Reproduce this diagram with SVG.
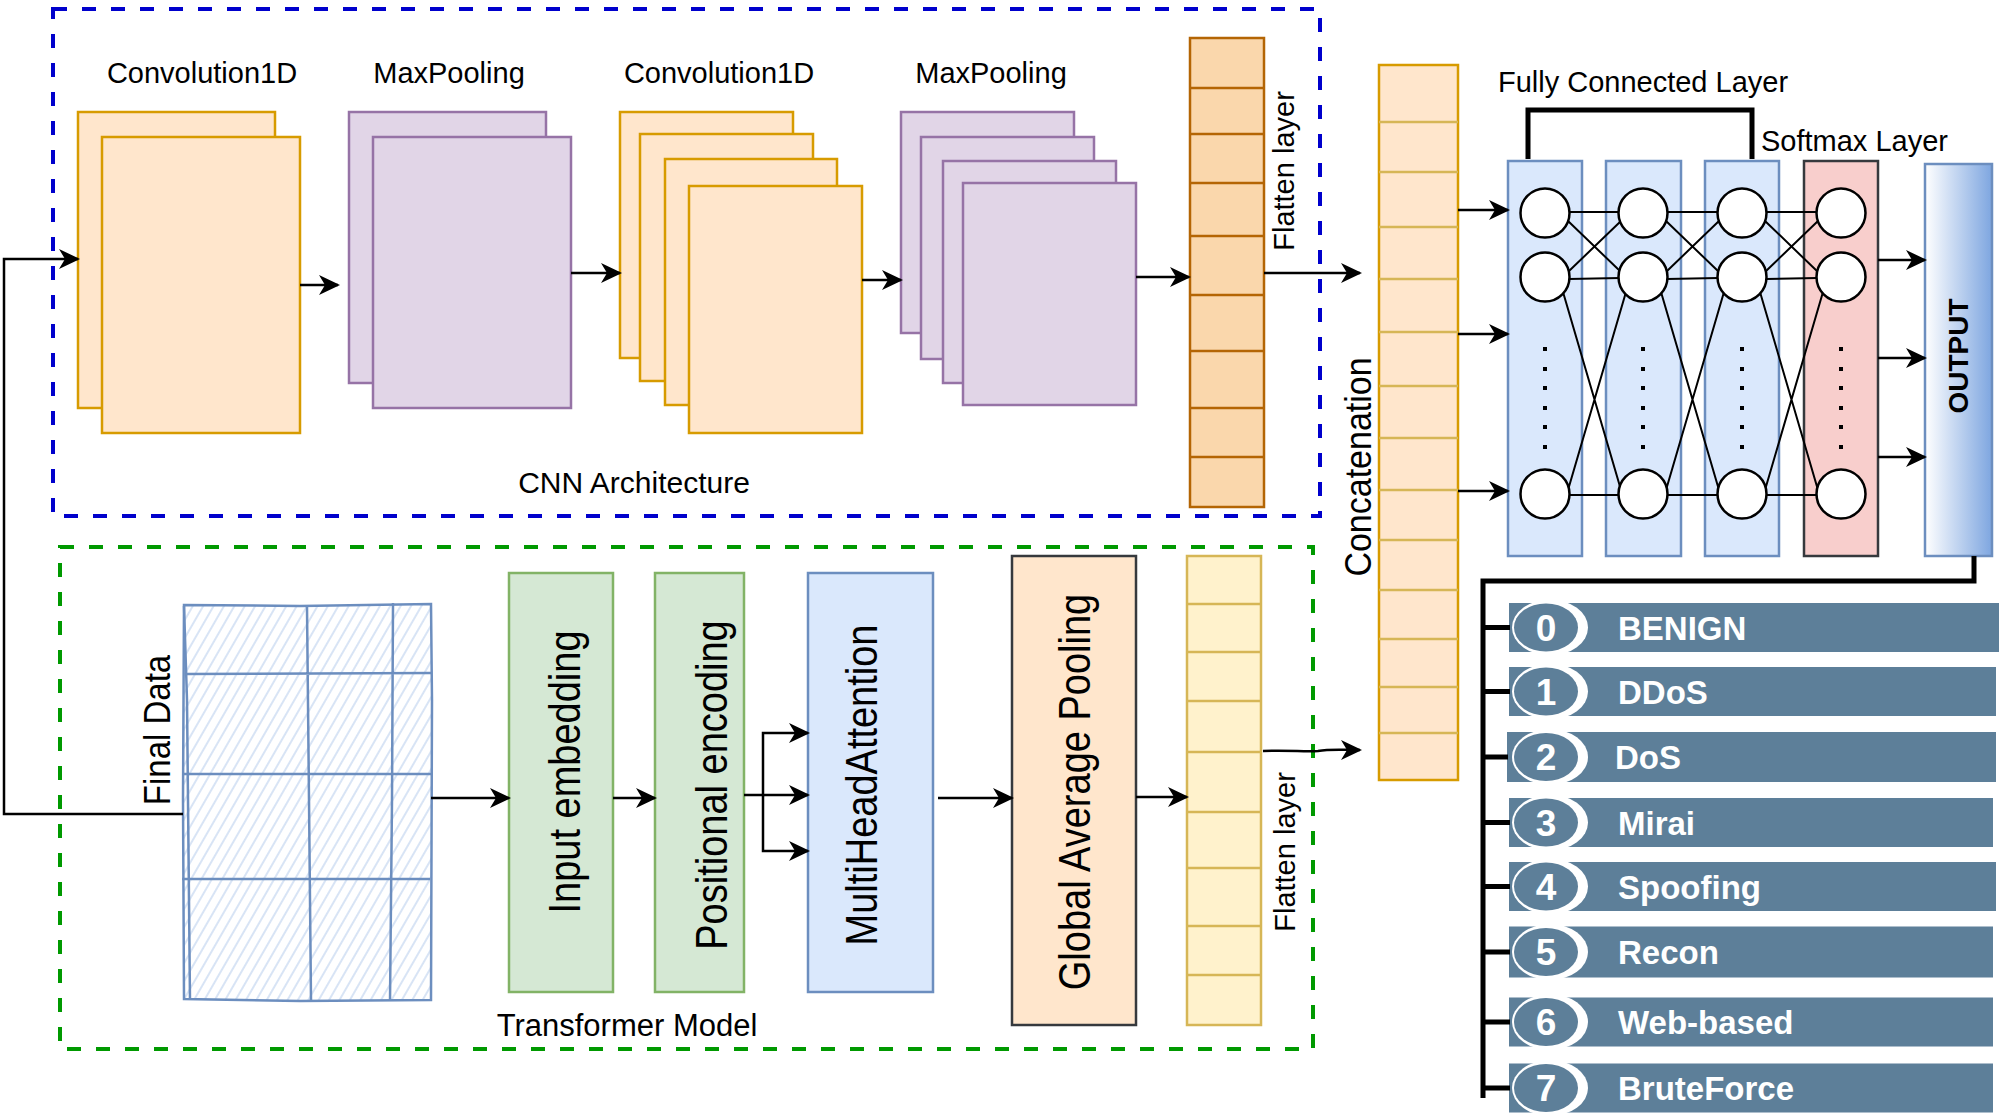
<svg xmlns="http://www.w3.org/2000/svg" xmlns:xlink="http://www.w3.org/1999/xlink" width="2000" height="1115" viewBox="0 0 2000 1115">
<style>
text{font-family:"Liberation Sans",Arial,Helvetica,sans-serif;fill:#000}
.t29{font-size:29px}
.t30{font-size:30px}
.big{font-size:38px}
.conv{fill:#FFE6CC;stroke:#D79B00;stroke-width:2.5}
.pool{fill:#E1D5E7;stroke:#9673A6;stroke-width:2.5}
.fc{fill:#DAE8FC;stroke:#6C8EBF;stroke-width:2.5}
.conn{fill:none;stroke:#000;stroke-width:2.5}
.mesh{fill:none;stroke:#000;stroke-width:2}
.node{fill:#fff;stroke:#000;stroke-width:2.5}
.bar{fill:#5D7F99}
.num{font-size:37px;font-weight:bold;fill:#fff;text-anchor:middle}
.lab{font-size:33px;font-weight:bold;fill:#fff}
.mid{text-anchor:middle}
</style>
<defs>
<marker id="ah" markerUnits="userSpaceOnUse" viewBox="0 0 21 20" markerWidth="21" markerHeight="20" refX="19" refY="10" orient="auto">
<path d="M0,0 L21,10 L0,20 L6,10 Z" fill="#000"/>
</marker>
<linearGradient id="outg" x1="0" y1="0" x2="1" y2="0">
<stop offset="0" stop-color="#FFFFFF"/>
<stop offset="1" stop-color="#7EA6E0"/>
</linearGradient>
<pattern id="hatch" patternUnits="userSpaceOnUse" width="9" height="12" patternTransform="rotate(30)">
<line x1="2" y1="0" x2="2" y2="12" stroke="#C3D6F0" stroke-width="1.3"/>
</pattern>
<g id="mesh">
<path class="mesh" d="M24,212 L75,212 M22,220 L76,272 M23,272 L77,220 M24,279 L75,278 M18,292 L76,490 M23,490 L81,292 M24,495 L75,495"/>
</g>
<g id="dots">
<rect x="-2" y="347" width="4" height="4"/><rect x="-2" y="367" width="4" height="4"/><rect x="-2" y="386" width="4" height="4"/><rect x="-2" y="406" width="4" height="4"/><rect x="-2" y="425" width="4" height="4"/><rect x="-2" y="445" width="4" height="4"/>
</g>
</defs>
<rect width="2000" height="1115" fill="#fff"/>

<!-- containers -->
<g id="cnn-box">
<rect x="53" y="9" width="1267" height="507" fill="none" stroke="#0000CC" stroke-width="4" stroke-dasharray="14 15"/>
<text class="t30 mid" x="634" y="493">CNN Architecture</text>
</g>
<g id="transformer-box">
<rect x="60" y="547" width="1253" height="502" fill="none" stroke="#009900" stroke-width="4" stroke-dasharray="14 15"/>
<text class="mid" style="font-size:31px" x="627" y="1036">Transformer Model</text>
</g>

<!-- CNN nodes -->
<g id="conv1">
<text class="t29 mid" x="202" y="83">Convolution1D</text>
<rect class="conv" x="78" y="112" width="197" height="296"/>
<rect class="conv" x="102" y="137" width="198" height="296"/>
</g>
<g id="pool1">
<text class="t29 mid" x="449" y="83">MaxPooling</text>
<rect class="pool" x="349" y="112" width="197" height="271"/>
<rect class="pool" x="373" y="137" width="198" height="271"/>
</g>
<g id="conv2">
<text class="t29 mid" x="719" y="83">Convolution1D</text>
<rect class="conv" x="620" y="112" width="173" height="246"/>
<rect class="conv" x="640" y="134" width="173" height="247"/>
<rect class="conv" x="665" y="159" width="172" height="246"/>
<rect class="conv" x="689" y="186" width="173" height="247"/>
</g>
<g id="pool2">
<text class="t29 mid" x="991" y="83">MaxPooling</text>
<rect class="pool" x="901" y="112" width="173" height="221"/>
<rect class="pool" x="921" y="137" width="173" height="222"/>
<rect class="pool" x="943" y="161" width="173" height="222"/>
<rect class="pool" x="963" y="183" width="173" height="222"/>
</g>
<g id="flatten-cnn">
<rect x="1190" y="38" width="74" height="469" fill="#FAD7AC" stroke="#B46504" stroke-width="2.5"/>
<path d="M1190,88H1264M1190,134H1264M1190,183H1264M1190,236H1264M1190,295H1264M1190,351H1264M1190,408H1264M1190,457H1264" stroke="#B46504" stroke-width="2.5"/>
<text class="t29 mid" transform="translate(1294,171) rotate(-90)">Flatten layer</text>
</g>

<!-- Transformer nodes -->
<g id="final-data">
<path d="M184,605 L300,606 L431,604 L432,700 L431,1000 L300,1001 L184,999 L183,800 Z" fill="url(#hatch)" stroke="#6C8EBF" stroke-width="2.5"/>
<path d="M184,606 L187,700 L190,1000 M307,607 L309,800 L311,1000 M393,603 L392,800 L390,1001 M187,674 L432,673 M183,774 L431,774 M182,879 L430,879" fill="none" stroke="#6C8EBF" stroke-width="2.5"/>
<text class="mid" style="font-size:33px" transform="translate(170,730) rotate(-90) scale(1,1.12)">Final Data</text>
</g>
<g id="input-embedding">
<rect x="509" y="573" width="104" height="419" fill="#D5E8D4" stroke="#82B366" stroke-width="2.5"/>
<text class="big mid" transform="translate(580,772) rotate(-90) scale(1,1.17)">Input embedding</text>
</g>
<g id="positional-encoding">
<rect x="655" y="573" width="89" height="419" fill="#D5E8D4" stroke="#82B366" stroke-width="2.5"/>
<text class="big mid" transform="translate(727,785) rotate(-90) scale(1,1.17)">Positional encoding</text>
</g>
<g id="multihead-attention">
<rect x="808" y="573" width="125" height="419" fill="#DAE8FC" stroke="#6C8EBF" stroke-width="2.5"/>
<text class="big mid" transform="translate(877,785) rotate(-90) scale(1,1.17)">MultiHeadAttention</text>
</g>
<g id="global-average-pooling">
<rect x="1012" y="556" width="124" height="469" fill="#FFE6CC" stroke="#36393D" stroke-width="2.5"/>
<text class="big mid" transform="translate(1090,792) rotate(-90) scale(1,1.17)">Global Average Pooling</text>
</g>
<g id="flatten-transformer">
<rect x="1187" y="556" width="74" height="469" fill="#FFF2CC" stroke="#D6B656" stroke-width="2.5"/>
<path d="M1187,604H1261M1187,652H1261M1187,701H1261M1187,752H1261M1187,812H1261M1187,868H1261M1187,926H1261M1187,975H1261" stroke="#D6B656" stroke-width="2.5"/>
<text class="t29 mid" transform="translate(1295,852) rotate(-90)">Flatten layer</text>
</g>

<!-- Concatenation -->
<g id="concatenation">
<rect x="1379" y="65" width="79" height="715" fill="#FFE6CC" stroke="#D79B00" stroke-width="2.5"/>
<path d="M1379,122H1458M1379,172H1458M1379,227H1458M1379,279H1458M1379,332H1458M1379,386H1458M1379,438H1458M1379,490H1458M1379,540H1458M1379,590H1458M1379,639H1458M1379,687H1458M1379,733H1458" stroke="#D6B656" stroke-width="2.5"/>
<text class="mid" style="font-size:34px" transform="translate(1371,467) rotate(-90) scale(1,1.1)">Concatenation</text>
</g>

<!-- Fully connected -->
<g id="fully-connected">
<text class="t29 mid" x="1643" y="92">Fully Connected Layer</text>
<path d="M1528,159 V110 H1752 V159" fill="none" stroke="#000" stroke-width="5"/>
<rect class="fc" x="1508" y="161" width="74" height="395"/>
<rect class="fc" x="1606" y="161" width="75" height="395"/>
<rect class="fc" x="1705" y="161" width="74" height="395"/>
</g>
<g id="softmax">
<text class="t29" x="1761" y="151">Softmax Layer</text>
<rect x="1804" y="161" width="74" height="395" fill="#F8CECC" stroke="#36393D" stroke-width="2.5"/>
</g>
<g id="mesh-links">
<use xlink:href="#mesh" href="#mesh" transform="translate(1545,0)"/>
<use xlink:href="#mesh" href="#mesh" transform="translate(1643,0)"/>
<use xlink:href="#mesh" href="#mesh" transform="translate(1742,0)"/>
</g>
<g id="neurons">
<circle class="node" cx="1545" cy="213" r="24.5"/><circle class="node" cx="1545" cy="277" r="24.5"/><circle class="node" cx="1545" cy="494" r="24.5"/>
<circle class="node" cx="1643" cy="213" r="24.5"/><circle class="node" cx="1643" cy="277" r="24.5"/><circle class="node" cx="1643" cy="494" r="24.5"/>
<circle class="node" cx="1742" cy="213" r="24.5"/><circle class="node" cx="1742" cy="277" r="24.5"/><circle class="node" cx="1742" cy="494" r="24.5"/>
<circle class="node" cx="1841" cy="213" r="24.5"/><circle class="node" cx="1841" cy="277" r="24.5"/><circle class="node" cx="1841" cy="494" r="24.5"/>
<use xlink:href="#dots" href="#dots" transform="translate(1545,0)"/>
<use xlink:href="#dots" href="#dots" transform="translate(1643,0)"/>
<use xlink:href="#dots" href="#dots" transform="translate(1742,0)"/>
<use xlink:href="#dots" href="#dots" transform="translate(1841,0)"/>
</g>
<g id="output">
<rect x="1925" y="164" width="67" height="392" fill="url(#outg)" stroke="#6C8EBF" stroke-width="2.5"/>
<text class="mid" style="font-size:28px;font-weight:bold" transform="translate(1968,356) rotate(-90)">OUTPUT</text>
</g>

<!-- Classes -->
<g id="class-0" transform="translate(0,627.5)">
<rect class="bar" x="1509" y="-24.5" width="490" height="49"/>
<ellipse cx="1550" cy="0" rx="38" ry="28" fill="#fff"/><ellipse class="bar" cx="1546" cy="0" rx="32" ry="24"/>
<text class="num" x="1546" y="13">0</text><text class="lab" x="1618" y="12">BENIGN</text>
</g>
<g id="class-1" transform="translate(0,691.5)">
<rect class="bar" x="1509" y="-24.5" width="487" height="49"/>
<ellipse cx="1550" cy="0" rx="38" ry="28" fill="#fff"/><ellipse class="bar" cx="1546" cy="0" rx="32" ry="24"/>
<text class="num" x="1546" y="13">1</text><text class="lab" x="1618" y="12">DDoS</text>
</g>
<g id="class-2" transform="translate(0,757)">
<rect class="bar" x="1507" y="-25" width="489" height="50"/>
<ellipse cx="1550" cy="0" rx="38" ry="28" fill="#fff"/><ellipse class="bar" cx="1546" cy="0" rx="32" ry="24"/>
<text class="num" x="1546" y="13">2</text><text class="lab" x="1615" y="12">DoS</text>
</g>
<g id="class-3" transform="translate(0,822.5)">
<rect class="bar" x="1509" y="-24.5" width="484" height="49"/>
<ellipse cx="1550" cy="0" rx="38" ry="28" fill="#fff"/><ellipse class="bar" cx="1546" cy="0" rx="32" ry="24"/>
<text class="num" x="1546" y="13">3</text><text class="lab" x="1618" y="12">Mirai</text>
</g>
<g id="class-4" transform="translate(0,886.5)">
<rect class="bar" x="1509" y="-24.5" width="487" height="49"/>
<ellipse cx="1550" cy="0" rx="38" ry="28" fill="#fff"/><ellipse class="bar" cx="1546" cy="0" rx="32" ry="24"/>
<text class="num" x="1546" y="13">4</text><text class="lab" x="1618" y="12">Spoofing</text>
</g>
<g id="class-5" transform="translate(0,952)">
<rect class="bar" x="1509" y="-25.5" width="484" height="51"/>
<ellipse cx="1550" cy="0" rx="38" ry="28" fill="#fff"/><ellipse class="bar" cx="1546" cy="0" rx="32" ry="24"/>
<text class="num" x="1546" y="13">5</text><text class="lab" x="1618" y="12">Recon</text>
</g>
<g id="class-6" transform="translate(0,1022)">
<rect class="bar" x="1509" y="-24.5" width="484" height="49"/>
<ellipse cx="1550" cy="0" rx="38" ry="28" fill="#fff"/><ellipse class="bar" cx="1546" cy="0" rx="32" ry="24"/>
<text class="num" x="1546" y="13">6</text><text class="lab" x="1618" y="12">Web-based</text>
</g>
<g id="class-7" transform="translate(0,1088)">
<rect class="bar" x="1509" y="-24.5" width="484" height="49"/>
<ellipse cx="1550" cy="0" rx="38" ry="28" fill="#fff"/><ellipse class="bar" cx="1546" cy="0" rx="32" ry="24"/>
<text class="num" x="1546" y="13">7</text><text class="lab" x="1618" y="12">BruteForce</text>
</g>

<!-- Connectors -->
<g id="connectors">
<path class="conn" d="M183,814 H4 V259 H78" marker-end="url(#ah)"/>
<path class="conn" d="M300,285 H338" marker-end="url(#ah)"/>
<path class="conn" d="M571,273 H620" marker-end="url(#ah)"/>
<path class="conn" d="M862,280 H901" marker-end="url(#ah)"/>
<path class="conn" d="M1136,277 H1189" marker-end="url(#ah)"/>
<path class="conn" d="M1264,273 H1360" marker-end="url(#ah)"/>
<path class="conn" d="M431,798 H509" marker-end="url(#ah)"/>
<path class="conn" d="M613,798 H655" marker-end="url(#ah)"/>
<path class="conn" d="M744,795 H763 V733 H808" marker-end="url(#ah)"/>
<path class="conn" d="M763,795 H808" marker-end="url(#ah)"/>
<path class="conn" d="M763,795 V851 H808" marker-end="url(#ah)"/>
<path class="conn" d="M938,798 H1012" marker-end="url(#ah)"/>
<path class="conn" d="M1136,797 H1187" marker-end="url(#ah)"/>
<path class="conn" d="M1263,751 C1290,750 1305,752 1318,751 C1330,749 1340,750 1360,750" marker-end="url(#ah)"/>
<path class="conn" d="M1458,210 H1508" marker-end="url(#ah)"/>
<path class="conn" d="M1458,334 H1508" marker-end="url(#ah)"/>
<path class="conn" d="M1458,491 H1508" marker-end="url(#ah)"/>
<path class="conn" d="M1878,260 H1925" marker-end="url(#ah)"/>
<path class="conn" d="M1878,358 H1925" marker-end="url(#ah)"/>
<path class="conn" d="M1878,457 H1925" marker-end="url(#ah)"/>
<path d="M1974,556 V581 H1483 V1098" fill="none" stroke="#000" stroke-width="5"/>
<path d="M1483,627.5 H1510 M1483,691.5 H1510 M1483,757 H1508 M1483,822.5 H1510 M1483,886.5 H1510 M1483,952 H1510 M1483,1022 H1510 M1483,1088 H1510" fill="none" stroke="#000" stroke-width="5"/>
</g>
</svg>
